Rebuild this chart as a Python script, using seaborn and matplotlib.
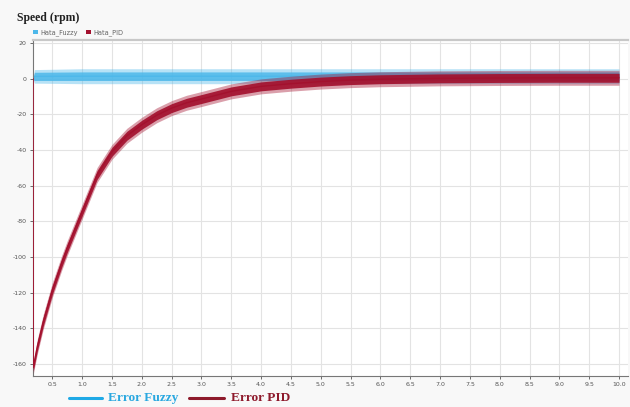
import numpy as np
import pandas as pd
import seaborn as sns
import matplotlib
matplotlib.use("Agg")
import matplotlib.pyplot as plt
from matplotlib.patches import Patch
from matplotlib.lines import Line2D

# ---- data (centre line and noise envelope) ----
pid_t = [0.177, 0.18, 0.25, 0.35, 0.5, 0.66, 0.75, 1.0, 1.25, 1.5, 1.75, 2.0, 2.25,
         2.5, 2.75, 3.0, 3.5, 4.0, 4.5, 5.0, 5.5, 6.0, 7.0, 8.0, 9.0, 10.0]
pid_mid = [0.0, -162, -150, -136, -118.5, -103, -95, -74.5, -54, -41, -32, -25.8, -20.5,
           -16.5, -13.5, -11.4, -7.1, -4.3, -2.8, -1.6, -0.8, -0.3, 0.2, 0.4, 0.5, 0.5]
pid_half_core = [0.5, 2.0, 2.5, 2.5, 2.5, 2.5, 2.5, 2.5, 2.5, 2.5, 2.5, 2.5, 2.5,
                 2.5, 2.5, 2.5, 2.5, 2.5, 2.5, 2.5, 2.5, 2.5, 2.5, 2.5, 2.5, 2.5]
pid_half_outer = [0.5, 3.5, 4.2, 4.2, 4.2, 4.2, 4.2, 4.2, 4.2, 4.2, 4.2, 4.2, 4.2,
                  4.2, 4.2, 4.2, 4.2, 4.2, 4.2, 4.2, 4.2, 4.2, 4.2, 4.2, 4.2, 4.2]

fuzzy_t = [0.177, 0.2, 1.0, 2.0, 3.0, 4.0, 5.0, 6.0, 7.0, 8.0, 9.0, 10.0]
fuzzy_mid = [0.0, 1.3, 1.4, 1.4, 1.4, 1.4, 1.4, 1.4, 1.4, 1.4, 1.4, 1.4]
fuzzy_half_core = [0.5, 2.3, 2.4, 2.4, 2.4, 2.4, 2.4, 2.4, 2.4, 2.4, 2.4, 2.4]
fuzzy_half_outer = [0.5, 3.8, 4.2, 4.2, 4.2, 4.2, 4.2, 4.2, 4.2, 4.2, 4.2, 4.2]

x_ticks = [0.5, 1.0, 1.5, 2.0, 2.5, 3.0, 3.5, 4.0, 4.5, 5.0,
           5.5, 6.0, 6.5, 7.0, 7.5, 8.0, 8.5, 9.0, 9.5, 10.0]
y_ticks = [20, 0, -20, -40, -60, -80, -100, -120, -140, -160]

series_names = ["Hata_Fuzzy", "Hata_PID"]
caption_names = ["Error Fuzzy", "Error PID"]

FUZZY = "#4db8ea"
PID = "#a3112e"

sns.set_theme(style="white")
plt.rcParams["font.family"] = ["DejaVu Sans"]

fig = plt.figure(figsize=(6.3, 4.07), dpi=100)
fig.patch.set_facecolor("#f8f8f8")
ax = fig.add_axes([33 / 630, 1 - 376 / 407, 595 / 630, 336 / 407])
ax.set_facecolor("white")

df_f = pd.DataFrame({"t": fuzzy_t, "v": fuzzy_mid})
df_p = pd.DataFrame({"t": pid_t, "v": pid_mid})

# Fuzzy band
fm = np.array(fuzzy_mid); fc = np.array(fuzzy_half_core); fo = np.array(fuzzy_half_outer)
ax.fill_between(fuzzy_t, fm - fo, fm + fo, color=FUZZY, alpha=0.4, lw=0, zorder=2)
ax.fill_between(fuzzy_t, fm - fc, fm + fc, color=FUZZY, alpha=0.85, lw=0, zorder=2)
sns.lineplot(data=df_f, x="t", y="v", ax=ax, color=FUZZY, lw=1.0, zorder=2)

# PID band
pm = np.array(pid_mid); pc = np.array(pid_half_core); po = np.array(pid_half_outer)
ax.fill_between(pid_t, pm - po, pm + po, color=PID, alpha=0.4, lw=0, zorder=3)
ax.fill_between(pid_t, pm - pc, pm + pc, color=PID, alpha=0.92, lw=0, zorder=3)
sns.lineplot(data=df_p, x="t", y="v", ax=ax, color=PID, lw=1.0, zorder=3)

ax.set_xlim(0.176, 10.15)
ax.set_ylim(-166.7, 21.7)
ax.set_xticks(x_ticks)
ax.set_xticklabels([f"{v:.1f}" for v in x_ticks])
ax.set_yticks(y_ticks)
ax.set_yticklabels([str(v) for v in y_ticks])
ax.set_xlabel("")
ax.set_ylabel("")
ax.grid(True, color="#e3e3e3", lw=0.8)
ax.set_axisbelow(True)
ax.tick_params(axis="both", labelsize=4.5, colors="#555555", length=2.5, width=0.6,
               pad=2, direction="out", bottom=True, left=True)
for s in ["left", "bottom"]:
    ax.spines[s].set_color("#777777")
    ax.spines[s].set_linewidth(0.8)
ax.spines["right"].set_visible(False)
ax.spines["top"].set_color("#c8c8c8")
ax.spines["top"].set_linewidth(1.6)

# top legend (small squares)
handles = [Patch(facecolor=FUZZY, edgecolor="none"), Patch(facecolor=PID, edgecolor="none")]
ax.legend(handles, series_names, loc="lower left", bbox_to_anchor=(-0.002, 1.008), ncol=2,
          frameon=False, fontsize=4.8, handlelength=0.7, handleheight=0.7,
          handletextpad=0.4, columnspacing=1.2, borderaxespad=0.1, borderpad=0.1,
          labelcolor="#666666")

# title
fig.text(17 / 630, 1 - 18 / 407, "Speed (rpm)", fontsize=8.5, fontweight="bold",
         family="Liberation Serif", color="#222222", va="center", ha="left")

# bottom caption legend
yc = 1 - 398 / 407
fig.add_artist(Line2D([69 / 630, 102 / 630], [yc, yc], color="#1fa9e6", lw=2.2,
                      transform=fig.transFigure))
fig.text(108 / 630, yc, caption_names[0], fontsize=9.6, fontweight="bold",
         family="Liberation Serif", color="#2aa8e0", va="center", ha="left")
fig.add_artist(Line2D([189 / 630, 224 / 630], [yc, yc], color="#8e1a2c", lw=2.2,
                      transform=fig.transFigure))
fig.text(231 / 630, yc, caption_names[1], fontsize=9.6, fontweight="bold",
         family="Liberation Serif", color="#8e1a2c", va="center", ha="left")

fig.savefig("out.png", dpi=100, facecolor=fig.get_facecolor())
